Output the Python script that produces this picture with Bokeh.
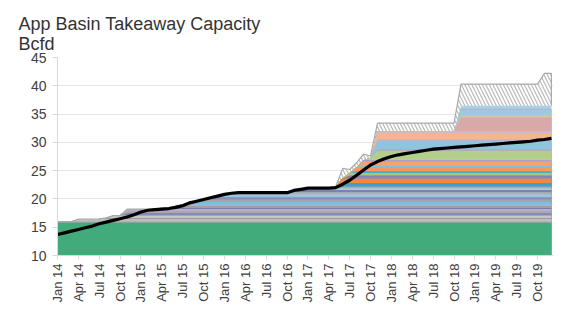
import numpy as np
from bokeh.plotting import figure
from bokeh.models import Range1d, FixedTicker, Title
from bokeh.embed import file_html
from bokeh.resources import INLINE

# ---------------- data ----------------
# monthly index: 0 = Jan 14 ... 71 = Dec 19
n_months = 72
tick_months = [0, 3, 6, 9, 12, 15, 18, 21, 24, 27, 30, 33, 36, 39, 42, 45,
               48, 51, 54, 57, 60, 63, 66, 69]
tick_labels = ["Jan 14", "Apr 14", "Jul 14", "Oct 14", "Jan 15", "Apr 15", "Jul 15", "Oct 15",
               "Jan 16", "Apr 16", "Jul 16", "Oct 16", "Jan 17", "Apr 17", "Jul 17", "Oct 17",
               "Jan 18", "Apr 18", "Jul 18", "Oct 18", "Jan 19", "Apr 19", "Jul 19", "Oct 19"]
y_ticks = [10, 15, 20, 25, 30, 35, 40, 45]

# in-service takeaway capacity additions (start month index, Bcfd)
layer_start = [0, 0, 3, 7, 8, 10, 10, 10, 15, 17, 18, 19, 21, 22, 24, 26, 34, 36, 40,
               41, 41, 42, 42, 42, 43, 43, 44, 44, 44, 45,
               46, 46, 46, 46, 46, 46, 58, 58, 58, 58, 58, 58]
layer_size = [15.8, 0.2, 0.45, 0.2, 0.4, 0.45, 0.35, 0.35, 0.2, 0.4, 0.2, 0.5, 0.4, 0.4, 0.5, 0.4, 0.4, 0.3, 0.3,
              0.6, 0.8, 0.4, 0.15, 0.45, 0.3, 0.7, 0.3, 0.7, 0.3, 0.4,
              1.2, 0.3, 1.4, 0.3, 1.2, 0.3, 2.4, 0.2, 0.25, 0.9, 0.2, 0.5]
layer_color = ["#41ab7b", "#a3a3a3", "#bebebe", "#999999", "#c6c6c6", "#8787b9", "#a9a9a9", "#b5b0d3",
               "#7b7ba9", "#a0a0a0", "#b3b3d4", "#6ec4e4", "#a5a5a5", "#8b8bbf", "#92c9e0", "#b2b2b2",
               "#7f7fb6", "#a2cde0", "#aaaaaa",
               "#3a9fc9", "#f08a3a", "#6b8fd3", "#c56b5b", "#a7c878", "#4ba9d1", "#f49b5c",
               "#7ec1dd", "#f4a36c", "#a9a1c9", "#b6cf8f",
               "#b3cd8a", "#aea7cf", "#8cc5dc", "#b9b2d6", "#f6b68c", "#c1bada",
               "#d9a9a9", "#e2bcb3", "#b9d191", "#9dcadc", "#b4aed4", "#a8d1e2"]

# planned (hatched) capacity above in-service capacity (start month index, Bcfd)
hatch_start = [41, 42, 43, 44, 45, 46, 58, 70]
hatch_size = [1.8, 0.6, 0.8, 1.0, 0.3, 1.4, 3.85, 5.75]

# production (black line), Bcfd, Jan 14 .. Dec 19
production = [13.7, 14.0, 14.3, 14.6, 14.9, 15.2, 15.6, 15.9, 16.2, 16.5, 16.8, 17.2,
              17.7, 18.0, 18.1, 18.2, 18.3, 18.5, 18.8, 19.3, 19.6, 19.9, 20.2, 20.5,
              20.8, 21.0, 21.1, 21.1, 21.1, 21.1, 21.1, 21.1, 21.1, 21.1, 21.5, 21.7,
              21.9, 21.9, 21.9, 21.9, 22.0, 22.6, 23.3, 24.2, 25.1, 26.0, 26.6, 27.1,
              27.5, 27.8, 28.0, 28.2, 28.4, 28.6, 28.8, 28.9, 29.0, 29.1, 29.2, 29.3,
              29.4, 29.5, 29.6, 29.7, 29.8, 29.9, 30.0, 30.1, 30.2, 30.4, 30.5, 30.7]

title_text = "App Basin Takeaway Capacity\nBcfd"

# ---------------- build ----------------
months = np.arange(n_months)
FONT = "Liberation Sans"

p = figure(width=561, height=311, output_backend="svg", toolbar_location=None,
           x_range=Range1d(0, 71.3), y_range=Range1d(10, 45),
           min_border_left=57, min_border_right=8, min_border_top=0, min_border_bottom=56,
           background_fill_color="white", border_fill_color="white")
p.title = None
p.outline_line_color = None
# main two-line title (closest to the frame), then a thin top spacer
p.add_layout(Title(text=title_text, text_font=FONT, text_font_size="18px",
                   text_font_style="normal", text_color="#333333", align="left",
                   offset=-39, standoff=8, text_line_height=1.0), "above")
p.add_layout(Title(text=" ", text_font=FONT, text_font_size="4px", text_color="white",
                   align="left", standoff=0), "above")

# cumulative in-service stack
tops = []
cum = np.zeros(n_months)
for s, v in zip(layer_start, layer_size):
    cum = cum + np.where(months >= s, v, 0.0)
    tops.append(cum.copy())
colored_total = cum

hatch_amt = np.zeros(n_months)
for s, v in zip(hatch_start, hatch_size):
    hatch_amt = np.where(months >= s, v, hatch_amt)
hatch_top = colored_total + hatch_amt

# hatched planned capacity
p.varea(x=months, y1=np.zeros(n_months), y2=hatch_top, fill_color="white",
        hatch_pattern="left_diagonal_line", hatch_color="#b8b8b8", hatch_scale=7,
        hatch_weight=1.2)

# colored stack, drawn top-down to avoid seams
for top, col in reversed(list(zip(tops, layer_color))):
    p.varea(x=months, y1=np.zeros(n_months), y2=top, fill_color=col)

# outlines of the hatched area
p.line(months, hatch_top, line_color="#a9a9a9", line_width=1.2)
p.segment(x0=[months[-1]], y0=[colored_total[-1]], x1=[months[-1]], y1=[hatch_top[-1]],
          line_color="#a9a9a9", line_width=1.2)

# production line
p.line(months, production, line_color="black", line_width=3.2, line_join="round")

# axes
p.xaxis.ticker = FixedTicker(ticks=tick_months)
p.xaxis.major_label_overrides = {m: l for m, l in zip(tick_months, tick_labels)}
p.xaxis.major_label_orientation = np.pi / 2
p.xaxis.major_label_text_font = FONT
p.xaxis.major_label_text_font_size = "13px"
p.xaxis.major_label_text_color = "#404040"
p.xaxis.major_label_standoff = 4
p.xaxis.major_tick_out = 4
p.xaxis.major_tick_in = 0
p.xaxis.minor_tick_line_color = None
p.xaxis.axis_line_color = "#d9d9d9"
p.xaxis.major_tick_line_color = "#d9d9d9"
p.xaxis.axis_label = None

p.yaxis.ticker = FixedTicker(ticks=y_ticks)
p.yaxis.major_label_text_font = FONT
p.yaxis.major_label_text_font_size = "14px"
p.yaxis.major_label_text_color = "#404040"
p.yaxis.major_label_standoff = 6
p.yaxis.major_tick_out = 5
p.yaxis.major_tick_in = 0
p.yaxis.minor_tick_line_color = None
p.yaxis.axis_line_color = "#d9d9d9"
p.yaxis.major_tick_line_color = "#d9d9d9"
p.yaxis.axis_label = None

p.xgrid.grid_line_color = None
p.ygrid.grid_line_color = "#e6e6e6"
p.ygrid.ticker = FixedTicker(ticks=y_ticks)

open("out.html", "w").write(file_html(p, INLINE))
